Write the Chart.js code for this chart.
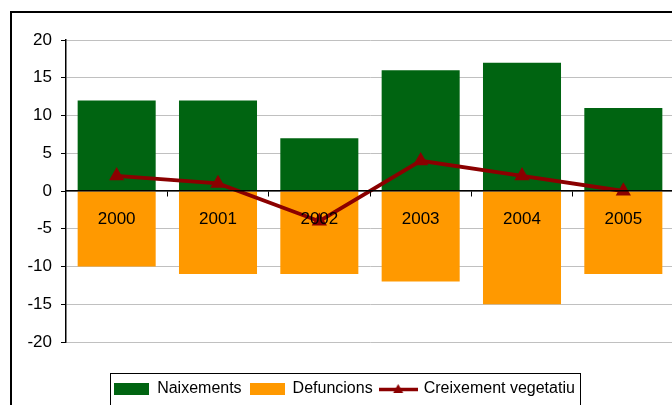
<!DOCTYPE html>
<html>
<head>
<meta charset="utf-8">
<script src="https://cdn.jsdelivr.net/npm/chart.js@4.4.0/dist/chart.umd.min.js"></script>
<style>
  html, body { margin: 0; padding: 0; background: #fff; overflow: hidden; }
  #wrap { position: relative; width: 700px; height: 407px; }
</style>
</head>
<body>
<div id="wrap"><canvas id="chart"></canvas></div>
<script>
// dades
const years = ['2000', '2001', '2002', '2003', '2004', '2005'];
const naixements = [12, 12, 7, 16, 17, 11];
const defuncions = [-10, -11, -11, -12, -15, -11];
const creixement = [2, 1, -4, 4, 2, 0];
const yTicks = [-20, -15, -10, -5, 0, 5, 10, 15, 20];
const seriesNames = ['Naixements', 'Defuncions', 'Creixement vegetatiu'];

const GREEN = '#006411';
const ORANGE = '#FF9900';
const RED = '#8B0000';

// petites imatges per a la llegenda
function rectSwatch(color) {
    const c = document.createElement('canvas');
    c.width = 35; c.height = 12;
    const g = c.getContext('2d');
    g.fillStyle = color;
    g.fillRect(0, 0, 35, 12);
    return c;
}

function lineSwatch(color) {
    const c = document.createElement('canvas');
    c.width = 39; c.height = 12;
    const g = c.getContext('2d');
    g.strokeStyle = color;
    g.lineWidth = 3.5;
    g.beginPath();
    g.moveTo(0, 6.5); g.lineTo(39, 6.5);
    g.stroke();
    g.fillStyle = color;
    g.beginPath();
    g.moveTo(19.5, 1); g.lineTo(24.5, 10); g.lineTo(14.5, 10);
    g.closePath();
    g.fill();
    return c;
}

const swatches = [rectSwatch(GREEN), rectSwatch(ORANGE), lineSwatch(RED)];

// marc exterior i requadre de la llegenda
const framePlugin = {
    id: 'frame',
    afterDraw(chart) {
        const ctx = chart.ctx;
        ctx.save();
        ctx.strokeStyle = '#000';
        ctx.lineWidth = 2;
        ctx.strokeRect(11, 12, chart.width + 20, chart.height + 20);

        const lg = chart.legend;
        const boxes = lg.legendHitBoxes;
        if (boxes && boxes.length) {
            const first = boxes[0];
            const last = boxes[boxes.length - 1];
            const left = Math.round(first.left) - 3.5;
            const right = Math.round(last.left + last.width) + 5.5;
            ctx.lineWidth = 1;
            ctx.strokeRect(left, Math.round(lg.top) + 0.5, right - left, chart.height);
        }
        ctx.restore();
    }
};

const ctx = document.getElementById('chart').getContext('2d');
new Chart(ctx, {
    data: {
        labels: years,
        datasets: [
            {
                type: 'bar',
                label: seriesNames[0],
                data: naixements,
                backgroundColor: GREEN,
                xAxisID: 'x', yAxisID: 'y',
                stack: 'bars',
                order: 1,
                categoryPercentage: 1,
                barPercentage: 0.77
            },
            {
                type: 'bar',
                label: seriesNames[1],
                data: defuncions,
                backgroundColor: ORANGE,
                xAxisID: 'x', yAxisID: 'y',
                stack: 'bars',
                order: 1,
                categoryPercentage: 1,
                barPercentage: 0.77
            },
            {
                type: 'line',
                label: seriesNames[2],
                data: creixement,
                borderColor: RED,
                backgroundColor: RED,
                borderWidth: 3.8,
                pointStyle: 'triangle',
                pointRadius: 5,
                pointBackgroundColor: RED,
                pointBorderColor: RED,
                tension: 0,
                xAxisID: 'x', yAxisID: 'y',
                stack: 'line',
                order: 0
            }
        ]
    },
    options: {
        responsive: true,
        maintainAspectRatio: false,
        animation: false,
        layout: { padding: { left: 15, right: 26, top: 40, bottom: 0 } },
        scales: {
            x: {
                stacked: true,
                position: { y: 0 },
                offset: true,
                grid: { offset: true, drawOnChartArea: false, tickLength: 5, tickColor: '#000', z: 1 },
                border: { color: '#000', width: 1.5, z: 1 },
                ticks: {
                    color: '#000',
                    font: { family: 'Arial', size: 17 },
                    padding: 13,
                    maxRotation: 0,
                    z: 1
                }
            },
            y: {
                stacked: true,
                min: yTicks[0],
                max: yTicks[yTicks.length - 1],
                ticks: {
                    stepSize: yTicks[1] - yTicks[0],
                    color: '#000',
                    font: { family: 'Arial', size: 17 },
                    padding: 9
                },
                grid: { color: '#c0c0c0', tickColor: '#000', tickLength: 5 },
                border: { color: '#000', width: 1.5 },
                afterFit(s) { s.width = 51; }
            },
            // espai buit entre el gràfic i la llegenda
            gap: {
                type: 'linear',
                axis: 'x',
                position: 'bottom',
                grid: { display: false },
                border: { display: false },
                ticks: { display: false },
                afterFit(s) { s.height = 31; }
            }
        },
        plugins: {
            tooltip: { enabled: false },
            legend: {
                position: 'bottom',
                labels: {
                    usePointStyle: true,
                    pointStyleWidth: 35,
                    boxHeight: 12,
                    padding: 8,
                    color: '#000',
                    font: { family: 'Arial', size: 16 },
                    generateLabels: chart => chart.data.datasets.map((ds, i) => ({
                        text: ds.label,
                        pointStyle: swatches[i],
                        fillStyle: ds.backgroundColor,
                        strokeStyle: 'transparent',
                        lineWidth: 0,
                        hidden: false,
                        datasetIndex: i
                    }))
                }
            }
        }
    },
    plugins: [framePlugin]
});
</script>
</body>
</html>
